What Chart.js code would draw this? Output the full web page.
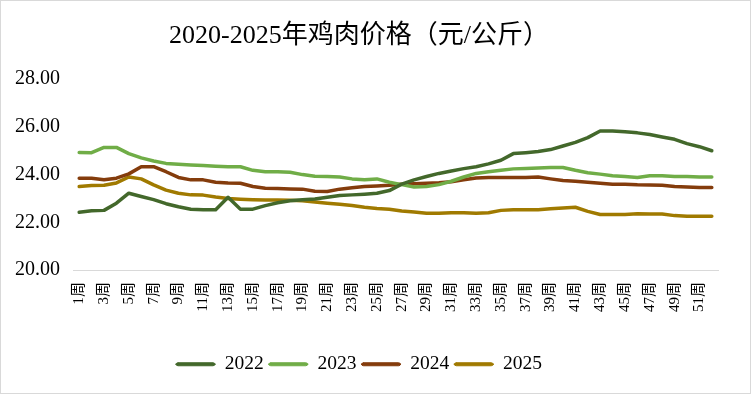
<!DOCTYPE html>
<html>
<head>
<meta charset="utf-8">
<script src="https://cdn.jsdelivr.net/npm/chart.js@4"></script>
<style>
    body { margin: 0; background: #fff; }
    #wrap { position: relative; width: 751px; height: 394px; }
    #wrap::after {
        content: ''; position: absolute; left: 0; top: 0; right: 0; bottom: 0;
        border: 1px solid #d9d9d9; box-sizing: border-box; pointer-events: none;
    }
</style>
</head>
<body>
<div id="wrap"><canvas id="chart" width="751" height="394"></canvas></div>
<script>
// weeks 1..52
const weeks = Array.from({ length: 52 }, (_, i) => (i + 1) + '周');

const y2022 = [22.42, 22.48, 22.50, 22.80, 23.22, 23.08, 22.95, 22.78, 22.65, 22.55,
    22.53, 22.53, 23.05, 22.55, 22.55, 22.70, 22.82, 22.90, 22.95, 22.98,
    23.05, 23.12, 23.15, 23.18, 23.22, 23.33, 23.60, 23.78, 23.92, 24.05,
    24.15, 24.25, 24.33, 24.45, 24.60, 24.88, 24.92, 24.97, 25.05, 25.20,
    25.35, 25.55, 25.83, 25.83, 25.80, 25.75, 25.68, 25.58, 25.48, 25.30,
    25.17, 25.00];
const y2023 = [24.93, 24.92, 25.14, 25.14, 24.88, 24.70, 24.57, 24.47, 24.43, 24.40,
    24.38, 24.35, 24.33, 24.33, 24.18, 24.12, 24.12, 24.10, 24.00, 23.93,
    23.92, 23.90, 23.82, 23.78, 23.82, 23.68, 23.58, 23.48, 23.50, 23.58,
    23.72, 23.90, 24.05, 24.12, 24.18, 24.24, 24.26, 24.28, 24.30, 24.30,
    24.18, 24.08, 24.02, 23.95, 23.92, 23.88, 23.95, 23.95, 23.92, 23.92,
    23.90, 23.90];
const y2024 = [23.85, 23.85, 23.78, 23.85, 24.03, 24.33, 24.33, 24.12, 23.88, 23.78,
    23.78, 23.68, 23.65, 23.64, 23.50, 23.43, 23.42, 23.40, 23.39, 23.30,
    23.29, 23.39, 23.45, 23.50, 23.52, 23.55, 23.60, 23.62, 23.64, 23.66,
    23.70, 23.78, 23.86, 23.88, 23.88, 23.88, 23.88, 23.90, 23.82, 23.75,
    23.72, 23.68, 23.64, 23.60, 23.60, 23.57, 23.56, 23.55, 23.50, 23.48,
    23.46, 23.46];
const y2025 = [23.50, 23.54, 23.55, 23.65, 23.90, 23.82, 23.57, 23.35, 23.22, 23.15,
    23.14, 23.06, 23.00, 22.97, 22.95, 22.94, 22.93, 22.92, 22.90, 22.85,
    22.80, 22.76, 22.70, 22.63, 22.58, 22.55, 22.47, 22.43, 22.38, 22.38,
    22.40, 22.40, 22.38, 22.40, 22.50, 22.53, 22.53, 22.53, 22.57, 22.60,
    22.63, 22.46, 22.33, 22.33, 22.33, 22.36, 22.35, 22.35, 22.28, 22.25,
    22.25, 22.25];

const seriesNames = ['2022', '2023', '2024', '2025'];
const seriesColors = ['#43682b', '#70ad47', '#843c0c', '#a07a00'];
const seriesData = [y2022, y2023, y2024, y2025];

const serif = '"Liberation Serif", "Times New Roman", "Noto Sans CJK SC", serif';

new Chart(document.getElementById('chart'), {
    type: 'line',
    data: {
        labels: weeks,
        datasets: seriesNames.map((name, i) => ({
            label: name,
            data: seriesData[i],
            borderColor: seriesColors[i],
            backgroundColor: seriesColors[i],
            borderWidth: 3.5,
            borderCapStyle: 'round',
            borderJoinStyle: 'round',
            pointRadius: 0,
            tension: 0
        }))
    },
    options: {
        responsive: false,
        animation: false,
        layout: { padding: { left: 0, right: 33, top: 0, bottom: 10 } },
        plugins: {
            tooltip: { enabled: false },
            title: {
                display: true,
                text: '2020-2025年鸡肉价格（元/公斤）',
                color: '#000',
                font: { family: serif, size: 26, weight: 'normal' },
                padding: { top: 21, bottom: 27 }
            },
            legend: {
                position: 'bottom',
                labels: {
                    color: '#000',
                    font: { family: serif, size: 19.5 },
                    boxWidth: 39,
                    boxHeight: 3,
                    padding: 5,
                    useBorderRadius: true,
                    borderRadius: 2,
                    generateLabels: chart => Chart.defaults.plugins.legend.labels.generateLabels(chart)
                        .map(item => ({ ...item, lineWidth: 1 }))
                }
            }
        },
        scales: {
            x: {
                offset: true,
                grid: { display: false, drawTicks: false },
                border: { display: true, color: '#d9d9d9', width: 1 },
                afterFit: scale => { scale.height = 79.5; },
                ticks: {
                    autoSkip: false,
                    minRotation: 90,
                    maxRotation: 90,
                    padding: 12,
                    color: '#000',
                    font: { family: serif, size: 15 },
                    callback: (val, i) => i % 2 === 0 ? weeks[i] : null
                }
            },
            y: {
                min: 20,
                max: 28,
                grid: { display: false, drawTicks: false },
                border: { display: false },
                afterFit: scale => { scale.width = 73; },
                ticks: {
                    stepSize: 2,
                    padding: 13,
                    color: '#000',
                    font: { family: serif, size: 20 },
                    callback: v => v.toFixed(2)
                }
            }
        }
    }
});
</script>
</body>
</html>
